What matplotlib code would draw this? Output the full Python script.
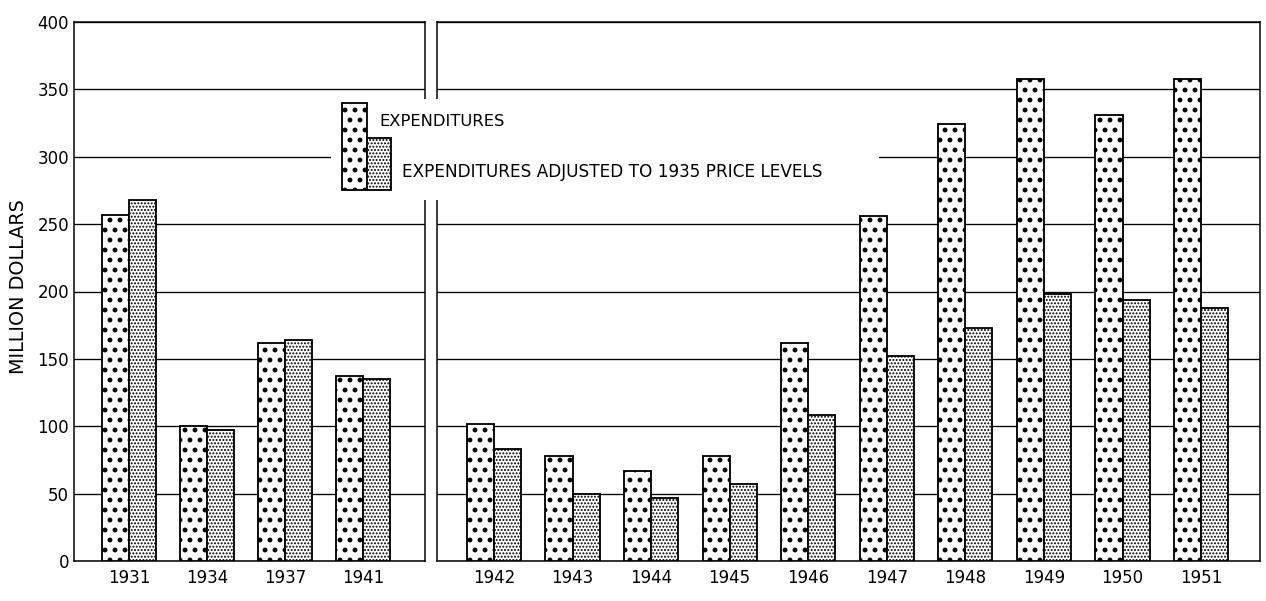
import matplotlib
matplotlib.use("Agg")
import matplotlib.pyplot as plt
from matplotlib.patches import Rectangle
import numpy as np

# ---- data ----
years_left = ["1931", "1934", "1937", "1941"]
exp_left = [257, 100, 162, 137]
adj_left = [268, 97, 164, 135]

years_right = ["1942", "1943", "1944", "1945", "1946",
               "1947", "1948", "1949", "1950", "1951"]
exp_right = [102, 78, 67, 78, 162, 256, 324, 358, 331, 358]
adj_right = [83, 50, 47, 57, 108, 152, 173, 198, 194, 188]

yticks = [0, 50, 100, 150, 200, 250, 300, 350, 400]
ylabel = "MILLION DOLLARS"
legend_labels = ["EXPENDITURES", "EXPENDITURES ADJUSTED TO 1935 PRICE LEVELS"]

# ---- figure ----
DPI = 120
W, H = 1266, 601
plt.rcParams['font.family'] = ['DejaVu Sans']
fig = plt.figure(figsize=(W / DPI, H / DPI), dpi=DPI)

top_px, bot_px = 22, 561
def ax_rect(x0, x1):
    return [x0 / W, (H - bot_px) / H, (x1 - x0) / W, (bot_px - top_px) / H]

axL = fig.add_axes(ax_rect(74, 425))
axR = fig.add_axes(ax_rect(437, 1260))

BW = 0.345
EXP_HATCH = '..'
ADJ_HATCH = '......'
EXP_HLW = 1.7
ADJ_HLW = 0.8

def set_hlw(patches, lw):
    for p in patches:
        if hasattr(p, 'set_hatch_linewidth'):
            p.set_hatch_linewidth(lw)

def draw_bars(ax, ax_years, exp_vals, adj_vals, xlim):
    x = np.arange(len(ax_years))
    with plt.rc_context({'hatch.linewidth': EXP_HLW}):
        b1 = ax.bar(x - BW / 2, exp_vals, BW, facecolor='white', edgecolor='black',
                    linewidth=1.1, hatch=EXP_HATCH, zorder=3)
    with plt.rc_context({'hatch.linewidth': ADJ_HLW}):
        b2 = ax.bar(x + BW / 2, adj_vals, BW, facecolor='white', edgecolor='black',
                    linewidth=1.1, hatch=ADJ_HATCH, zorder=3)
    set_hlw(b1, EXP_HLW)
    set_hlw(b2, ADJ_HLW)
    ax.set_xlim(*xlim)
    ax.set_ylim(0, 400)
    ax.set_yticks(yticks)
    ax.yaxis.grid(True, color='black', linewidth=0.8, zorder=0)
    ax.set_axisbelow(True)
    ax.set_xticks(x)
    ax.set_xticklabels(ax_years, fontsize=10)
    ax.tick_params(axis='both', length=0)
    ax.tick_params(axis='x', pad=5)
    for s in ax.spines.values():
        s.set_linewidth(0.9)
        s.set_color('black')

draw_bars(axL, years_left, exp_left, adj_left, (-0.705, 3.795))
draw_bars(axR, years_right, exp_right, adj_right, (-0.725, 9.75))

axL.set_yticklabels([str(v) for v in yticks], fontsize=10)
axL.tick_params(axis='y', pad=3)
axR.set_yticklabels([])

fig.text(19 / W, 1 - 287 / H, ylabel, rotation=90, ha='center', va='center',
         fontsize=11.5)

# ---- legend overlay (pixel coordinates) ----
ov = fig.add_axes([0, 0, 1, 1], zorder=10)
ov.set_xlim(0, W)
ov.set_ylim(H, 0)
ov.axis('off')
ov.patch.set_alpha(0)
ov.add_patch(Rectangle((331, 99), 548, 101, facecolor='white', edgecolor='none'))
with plt.rc_context({'hatch.linewidth': EXP_HLW}):
    r1 = Rectangle((342, 103), 25, 87, facecolor='white', edgecolor='black',
                   linewidth=1.1, hatch=EXP_HATCH)
with plt.rc_context({'hatch.linewidth': ADJ_HLW}):
    r2 = Rectangle((367, 138), 24, 52, facecolor='white', edgecolor='black',
                   linewidth=1.1, hatch=ADJ_HATCH)
set_hlw([r1], EXP_HLW)
set_hlw([r2], ADJ_HLW)
ov.add_patch(r1)
ov.add_patch(r2)
ov.text(379, 122, legend_labels[0], ha='left', va='center', fontsize=9.8)
ov.text(402, 172, legend_labels[1], ha='left', va='center', fontsize=10.1)

fig.savefig("out.png", dpi=DPI, facecolor='white')
